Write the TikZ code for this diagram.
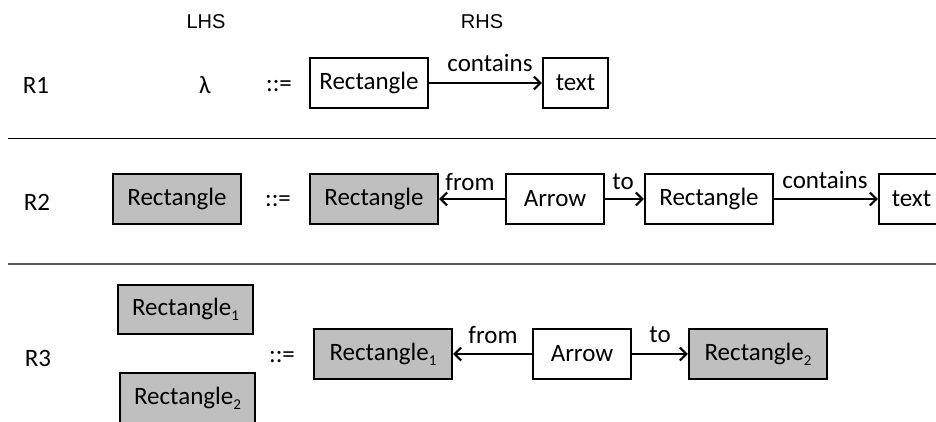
\documentclass[tikz,border=0pt]{standalone}
\usepackage{fontspec}
\setmainfont{Carlito}
\newfontfamily\arialfont{Liberation Sans}
\usetikzlibrary{arrows.meta}
\newcommand{\subidx}[1]{\raisebox{-0.45ex}{\fontsize{15}{15}\selectfont #1}}
\begin{document}
\begin{tikzpicture}[x=1pt,y=-1pt,
  font=\fontsize{25}{29}\selectfont,
  box/.style={draw=black, line width=2.4pt, inner sep=0pt, minimum height=50pt},
  gbox/.style={box, fill=gray!50},
  hdr/.style={inner sep=0pt, font=\arialfont\fontsize{20}{23}\selectfont},
  conn/.style={line width=2.1pt, -{Straight Barb[length=6.5pt,width=13pt,line width=2.1pt]}}
]
\useasboundingbox (0,0) rectangle (936,421);
% headers
\node[hdr] (lhs) at (206,22) {LHS};
\node[hdr] (rhs) at (482,22) {RHS};
% separators
\coordinate (l1a) at (8,138.5);
\coordinate (l1b) at (936,138.5);
\coordinate (l2a) at (8,264);
\coordinate (l2b) at (936,264);
\draw[line width=1.5pt, black] (l1a) -- (l1b);
\draw[line width=2.1pt, black!65] (l2a) -- (l2b);
% R1
\node[inner sep=0pt] (r1) at (36,85) {R1};
\node[inner sep=0pt] (lam) at (205,85) {λ};
\node[inner sep=0pt] (def1) at (279,86) {::=};
\node[box, minimum width=118pt] (a1) at (369,83) {Rectangle};
\node[box, minimum width=65pt] (a2) at (575.5,83) {text};
\draw[conn] (a1) -- (a2);
\node[inner sep=0pt] (c1) at (490,63) {contains};
% R2
\node[inner sep=0pt] (r2) at (37,202) {R2};
\node[gbox, minimum width=128pt] (b0) at (177,199) {Rectangle};
\node[inner sep=0pt] (def2) at (278,201) {::=};
\node[gbox, minimum width=128pt] (b1) at (374,199) {Rectangle};
\node[box, minimum width=98pt] (b2) at (555,199) {Arrow};
\node[box, minimum width=128pt] (b3) at (709,199) {Rectangle};
\node[box, minimum width=65pt] (b4) at (911.5,199) {text};
\draw[conn] (b2) -- (b1);
\draw[conn] (b2) -- (b3);
\draw[conn] (b3) -- (b4);
\node[inner sep=0pt] (f2) at (470,182) {from};
\node[inner sep=0pt] (t2) at (623,182) {to};
\node[inner sep=0pt] (c2) at (825,180) {contains};
% R3
\node[inner sep=0pt] (r3) at (38,358) {R3};
\node[gbox, minimum width=135pt, minimum height=49pt] (d1) at (185.5,309.5) {Rectangle\subidx{1}};
\node[gbox, minimum width=135pt] (d2) at (187.5,398) {Rectangle\subidx{2}};
\node[inner sep=0pt] (def3) at (282,357) {::=};
\node[gbox, minimum width=138pt] (e1) at (383,354) {Rectangle\subidx{1}};
\node[box, minimum width=98pt] (e2) at (582,354) {Arrow};
\node[gbox, minimum width=138pt] (e3) at (758,354) {Rectangle\subidx{2}};
\draw[conn] (e2) -- (e1);
\draw[conn] (e2) -- (e3);
\node[inner sep=0pt] (f3) at (493,335) {from};
\node[inner sep=0pt] (t3) at (660,335) {to};
\end{tikzpicture}
\end{document}
